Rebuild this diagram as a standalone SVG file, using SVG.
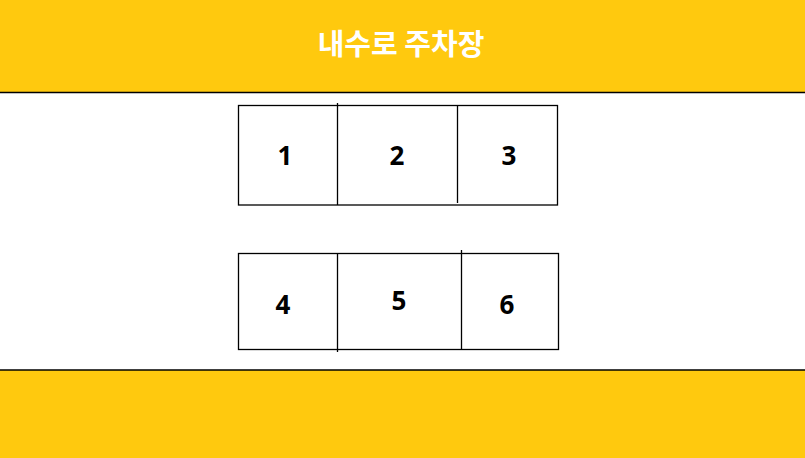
<svg xmlns="http://www.w3.org/2000/svg" width="805" height="458" viewBox="0 0 805 458">
<style>
.band{fill:#FFC90E}
.edge{stroke:#000;stroke-width:1.3;fill:none}
.box{fill:#fff;stroke:#000;stroke-width:1.3}
.num{font-family:"Noto Sans","Noto Sans CJK KR",sans-serif;font-weight:bold;font-size:26px;fill:#000;text-anchor:middle}
.title{font-family:"Noto Sans CJK KR",sans-serif;font-weight:bold;font-size:29px;fill:#fff;text-anchor:middle}
</style>
<rect width="805" height="458" fill="#fff"/>
<g id="top-band">
<rect class="band" x="0" y="0" width="805" height="92"/>
<line class="edge" x1="0" y1="92.5" x2="805" y2="92.5" stroke-width="1.5"/>
<text class="title" x="401" y="55">내수로 주차장</text>
</g>
<g id="bottom-band">
<rect class="band" x="0" y="370" width="805" height="88"/>
<line class="edge" x1="0" y1="370" x2="805" y2="370" stroke-width="1.5"/>
</g>
<g id="row1">
<rect class="box" x="238.5" y="105.5" width="319" height="99.5"/>
<line class="edge" x1="337.5" y1="103" x2="337.5" y2="205"/>
<line class="edge" x1="457.5" y1="105" x2="457.5" y2="203"/>
</g>
<g id="slot1"><text class="num" x="285" y="165">1</text></g>
<g id="slot2"><text class="num" x="397" y="165">2</text></g>
<g id="slot3"><text class="num" x="509" y="165">3</text></g>
<g id="row2">
<rect class="box" x="238.5" y="253.5" width="320" height="96"/>
<line class="edge" x1="337.5" y1="253" x2="337.5" y2="352"/>
<line class="edge" x1="461.5" y1="250" x2="461.5" y2="350"/>
</g>
<g id="slot4"><text class="num" x="283" y="314">4</text></g>
<g id="slot5"><text class="num" x="399" y="310">5</text></g>
<g id="slot6"><text class="num" x="507" y="314">6</text></g>
</svg>
